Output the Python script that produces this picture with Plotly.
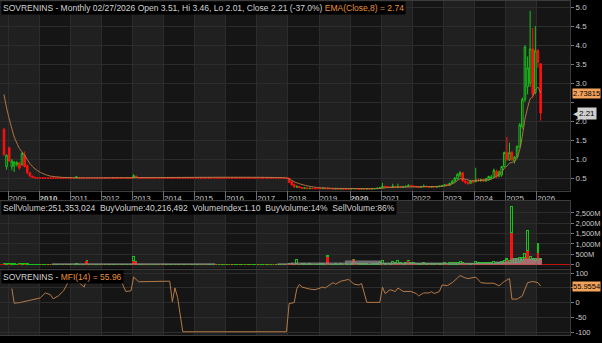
import pandas as pd
import plotly.graph_objects as go

# ---------------- monthly candles, Nov 2008 .. Feb 2026 ----------------
F = 0.50
opens = ([1.78, 0.80] +
         [1.30, 0.80, 0.82, 0.86, 0.90, 0.86, 1.10, 0.82, 0.64, 0.55, 0.52, 0.50] +
         [F, F, F, F, F, F, F, F, F, F, F, F] +
         [F, F, F, F, F, F, F, F, F, F, F, F] +
         [F, F, F, F, F, F, F, F, F, F, F, F] +
         [0.50, 0.55, F, F, F, F, F, F, F, F, F, F] +
         [F, F, F, F, F, F, F, F, F, F, F, F] +
         [F, F, F, F, F, F, F, F, F, F, F, F] +
         [F, F, F, F, F, F, F, F, F, F, F, F] +
         [F, F, F, F, F, F, F, F, F, F, F, F] +
         [0.50, 0.40, 0.33, 0.26, 0.28, 0.25, 0.23, 0.24, 0.22, 0.23, 0.22, 0.22] +
         [0.22, 0.22, 0.23, 0.22, 0.22, 0.22, 0.21, 0.22, 0.21, 0.22, 0.21, 0.21] +
         [0.21, 0.22, 0.22, 0.21, 0.21, 0.22, 0.21, 0.22, 0.21, 0.22, 0.22, 0.23] +
         [0.24, 0.28, 0.27, 0.26, 0.25, 0.28, 0.26, 0.27, 0.26, 0.27, 0.28, 0.30] +
         [0.29, 0.28, 0.27, 0.26, 0.27, 0.28, 0.27, 0.26, 0.27, 0.26, 0.27, 0.28] +
         [0.30, 0.33, 0.31, 0.36, 0.42, 0.48, 0.58, 0.64, 0.42, 0.38, 0.36, 0.42] +
         [0.40, 0.45, 0.43, 0.46, 0.42, 0.45, 0.50, 0.52, 0.68, 0.55, 0.58, 0.80] +
         [1.17, 0.98, 1.17, 0.95, 1.06, 1.33, 1.86, 2.57, 2.90, 3.00, 3.90, 2.75] +
         [3.85, 3.51])
highs = ([1.82, 1.12] +
         [1.32, 1.00, 0.95, 0.95, 0.92, 1.18, 1.20, 0.86, 0.66, 0.56, 0.52, 0.50] +
         [F, F, F, F, F, F, F, F, F, F, F, F] +
         [F, F, 0.54, F, F, F, F, F, F, F, F, F] +
         [F, F, F, F, F, F, F, F, F, F, F, F] +
         [0.60, 0.56, F, F, F, F, F, F, F, F, F, F] +
         [F, F, F, F, F, F, F, F, F, F, F, F] +
         [F, F, F, F, F, F, F, F, F, F, F, F] +
         [F, F, F, F, F, F, F, F, F, F, F, F] +
         [F, F, F, F, F, F, F, F, F, F, F, F] +
         [0.50, 0.41, 0.36, 0.30, 0.29, 0.26, 0.25, 0.25, 0.24, 0.23, 0.23, 0.23] +
         [0.23, 0.24, 0.24, 0.26, 0.23, 0.23, 0.23, 0.22, 0.23, 0.22, 0.22, 0.22] +
         [0.23, 0.23, 0.22, 0.22, 0.23, 0.22, 0.23, 0.22, 0.23, 0.23, 0.25, 0.26] +
         [0.37, 0.30, 0.28, 0.27, 0.35, 0.29, 0.35, 0.28, 0.29, 0.30, 0.34, 0.32] +
         [0.30, 0.29, 0.28, 0.29, 0.33, 0.30, 0.28, 0.29, 0.28, 0.29, 0.30, 0.32] +
         [0.34, 0.35, 0.38, 0.44, 0.52, 0.62, 0.68, 0.66, 0.46, 0.42, 0.44, 0.45] +
         [0.77, 0.50, 0.48, 0.48, 0.50, 0.56, 0.58, 0.75, 0.72, 0.70, 0.82, 1.20] +
         [1.58, 1.43, 1.22, 1.08, 1.36, 1.95, 2.62, 4.00, 3.70, 4.90, 4.45, 4.50] +
         [3.90, 3.46])
lows = ([1.08, 0.72] +
        [0.92, 0.70, 0.66, 0.80, 0.72, 0.82, 0.78, 0.60, 0.52, 0.50, 0.50, 0.50] +
        [F, F, F, F, F, F, F, F, F, F, F, F] +
        [F, F, F, F, F, F, F, F, F, F, F, F] +
        [F, F, F, F, F, F, F, F, F, F, F, F] +
        [0.50, 0.51, F, F, F, F, F, F, F, F, F, F] +
        [F, F, F, F, F, F, F, F, F, F, F, F] +
        [F, F, F, F, F, F, F, F, F, F, F, F] +
        [F, F, F, F, F, F, F, F, F, F, F, F] +
        [F, F, F, F, F, F, F, F, F, F, F, F] +
        [0.37, 0.30, 0.24, 0.24, 0.23, 0.22, 0.22, 0.21, 0.21, 0.21, 0.21, 0.21] +
        [0.21, 0.21, 0.21, 0.21, 0.21, 0.21, 0.21, 0.20, 0.20, 0.20, 0.20, 0.20] +
        [0.20, 0.21, 0.20, 0.20, 0.20, 0.20, 0.20, 0.20, 0.20, 0.21, 0.21, 0.22] +
        [0.23, 0.26, 0.25, 0.24, 0.24, 0.25, 0.25, 0.25, 0.25, 0.26, 0.27, 0.28] +
        [0.27, 0.26, 0.25, 0.25, 0.26, 0.26, 0.25, 0.25, 0.25, 0.25, 0.26, 0.27] +
        [0.28, 0.29, 0.30, 0.34, 0.40, 0.46, 0.52, 0.40, 0.34, 0.32, 0.34, 0.36] +
        [0.39, 0.40, 0.40, 0.40, 0.40, 0.43, 0.46, 0.50, 0.50, 0.52, 0.53, 0.78] +
        [0.95, 0.95, 0.95, 0.88, 1.02, 1.30, 1.80, 2.50, 2.70, 2.90, 2.60, 2.70] +
        [3.40, 2.01])
closes = ([1.12, 1.10] +
          [0.95, 0.95, 0.92, 0.90, 0.76, 1.15, 0.80, 0.64, 0.55, 0.52, 0.50, 0.50] +
          [F, F, F, F, F, F, F, F, F, F, F, F] +
          [F, F, 0.53, F, F, F, F, F, F, F, F, F] +
          [F, F, F, F, F, F, F, F, F, F, F, F] +
          [0.565, 0.51, F, F, F, F, F, F, F, F, F, F] +
          [F, F, F, F, F, F, F, F, F, F, F, F] +
          [F, F, F, F, F, F, F, F, F, F, F, F] +
          [F, F, F, F, F, F, F, F, F, F, F, F] +
          [F, F, F, F, F, F, F, F, F, F, F, F] +
          [0.38, 0.32, 0.27, 0.28, 0.25, 0.23, 0.24, 0.22, 0.23, 0.22, 0.22, 0.22] +
          [0.22, 0.23, 0.22, 0.22, 0.22, 0.21, 0.22, 0.21, 0.22, 0.21, 0.21, 0.21] +
          [0.22, 0.22, 0.21, 0.21, 0.22, 0.21, 0.22, 0.21, 0.22, 0.22, 0.23, 0.24] +
          [0.28, 0.27, 0.26, 0.25, 0.28, 0.26, 0.27, 0.26, 0.27, 0.28, 0.30, 0.29] +
          [0.28, 0.27, 0.26, 0.27, 0.28, 0.27, 0.26, 0.27, 0.26, 0.27, 0.28, 0.30] +
          [0.32, 0.30, 0.36, 0.42, 0.50, 0.60, 0.64, 0.42, 0.38, 0.36, 0.42, 0.40] +
          [0.45, 0.43, 0.46, 0.42, 0.48, 0.54, 0.52, 0.70, 0.53, 0.66, 0.80, 1.17] +
          [0.98, 1.17, 0.98, 1.05, 1.33, 1.90, 2.57, 3.95, 3.40, 3.90, 2.70, 3.85] +
          [3.55, 2.21])

# volume split (millions)
sell_vol = ([45, 20] +
            [40, 15, 20, 10, 35, 15, 40, 30, 25, 15, 10, 5] +
            [5, 5, 5, 5, 5, 5, 5, 5, 5, 5, 5, 5] +
            [5, 5, 5, 5, 5, 5, 190, 5, 5, 5, 5, 5] +
            [5, 5, 5, 5, 30, 5, 5, 5, 5, 5, 5, 5] +
            [190, 150, 5, 5, 5, 5, 5, 5, 5, 5, 5, 5] +
            [5, 5, 5, 5, 5, 5, 5, 5, 5, 5, 5, 5] +
            [5, 5, 5, 5, 5, 5, 5, 5, 5, 5, 5, 5] +
            [5, 5, 5, 5, 5, 5, 5, 5, 5, 5, 5, 5] +
            [5, 5, 5, 5, 5, 5, 5, 5, 5, 5, 30, 30] +
            [60, 40, 30, 40, 30, 20, 20, 25, 20, 20, 20, 20] +
            [30, 20, 25, 400, 20, 30, 20, 25, 20, 20, 25, 20] +
            [25, 270, 40, 30, 20, 30, 25, 20, 25, 30, 20, 30] +
            [60, 30, 40, 30, 50, 40, 60, 40, 30, 40, 200, 80] +
            [60, 40, 30, 30, 40, 30, 40, 30, 30, 40, 30, 30] +
            [40, 50, 30, 30, 30, 30, 40, 90, 50, 40, 30, 40] +
            [40, 50, 40, 60, 40, 40, 50, 60, 80, 60, 60, 120] +
            [240, 100, 1540, 100, 120, 150, 200, 330, 670, 240, 240, 200] +
            [600, 251])
buy_vol = ([10, 35] +
           [10, 30, 25, 20, 5, 35, 10, 5, 5, 5, 3, 3] +
           [0, 0, 0, 0, 0, 0, 0, 0, 0, 0, 0, 0] +
           [0, 0, 40, 0, 0, 0, 0, 0, 0, 0, 0, 0] +
           [0, 0, 0, 0, 0, 0, 0, 0, 0, 0, 0, 0] +
           [210, 0, 0, 0, 0, 0, 0, 0, 0, 0, 0, 0] +
           [0, 0, 0, 0, 0, 0, 0, 0, 0, 0, 0, 0] +
           [0, 0, 0, 0, 0, 0, 0, 0, 0, 0, 0, 0] +
           [0, 0, 0, 0, 0, 0, 0, 0, 0, 0, 0, 0] +
           [0, 0, 0, 0, 0, 0, 0, 0, 0, 0, 0, 0] +
           [0, 0, 0, 200, 0, 20, 30, 0, 20, 0, 10, 10] +
           [10, 30, 0, 20, 10, 0, 20, 0, 20, 0, 10, 10] +
           [20, 0, 10, 20, 30, 10, 20, 10, 20, 20, 30, 60] +
           [150, 40, 30, 40, 100, 50, 120, 50, 40, 50, 20, 40] +
           [30, 40, 30, 40, 50, 40, 30, 40, 30, 30, 40, 50] +
           [60, 30, 60, 70, 80, 90, 100, 20, 30, 30, 50, 30] +
           [100, 40, 50, 30, 50, 60, 50, 80, 30, 60, 90, 60] +
           [60, 80, 1250, 200, 180, 200, 150, 200, 960, 140, 50, 100] +
           [400, 40])

# grey average-volume band (millions), step vertices
avgvol_months = ['2010-06', '2015-09', '2017-09', '2018-02', '2019-11', '2021-01',
                 '2023-01', '2024-09', '2025-03', '2026-03']
avgvol_values = [70, 0, 70, 100, 200, 110, 90, 150, 300, 0]

# EMA(Close,8) readings
ema_months = ['2008-11', '2008-12', '2009-01', '2009-02', '2009-03', '2009-04', '2009-05',
              '2009-07', '2009-09', '2009-11', '2010-01', '2010-03', '2010-05', '2010-09',
              '2011-03', '2017-12', '2018-01', '2018-02', '2018-03', '2018-05', '2018-07',
              '2018-09', '2018-12', '2019-05', '2020-09', '2020-12', '2021-03', '2021-07',
              '2022-05', '2023-01', '2023-03', '2023-05', '2023-07', '2023-09', '2023-11',
              '2024-01', '2024-04', '2024-07', '2024-09', '2024-11', '2024-12', '2025-01',
              '2025-02', '2025-03', '2025-04', '2025-05', '2025-06', '2025-07', '2025-08',
              '2025-09', '2025-10', '2025-11', '2025-12', '2026-01', '2026-02']
ema_values = [2.70, 2.35, 2.06, 1.80, 1.58, 1.42, 1.28,
              1.10, 0.88, 0.74, 0.65, 0.59, 0.55, 0.52,
              0.505, 0.50, 0.47, 0.44, 0.40, 0.35, 0.31,
              0.28, 0.25, 0.23, 0.22, 0.225, 0.25, 0.26,
              0.27, 0.29, 0.32, 0.38, 0.48, 0.47, 0.43,
              0.43, 0.44, 0.47, 0.55, 0.65, 0.76, 0.81,
              0.89, 0.91, 0.94, 1.03, 1.25, 1.60, 2.05,
              2.35, 2.58, 2.65, 2.82, 2.89, 2.73815]

# MFI(14) readings
mfi_months = ['2009-02', '2009-03', '2009-05', '2009-10', '2010-01', '2010-03', '2010-05',
              '2010-06', '2010-08', '2010-10', '2010-12', '2011-01', '2011-04', '2011-06',
              '2011-07', '2011-12', '2012-04', '2012-05', '2012-06', '2012-08', '2012-10',
              '2012-12', '2013-01', '2013-03', '2013-07', '2013-08', '2014-03', '2014-04',
              '2014-05', '2014-06', '2014-08', '2017-12', '2018-01', '2018-03', '2018-04',
              '2018-05', '2018-06', '2018-09', '2018-11', '2019-02', '2019-03', '2019-06',
              '2019-07', '2019-09', '2019-12', '2020-02', '2020-04', '2020-05', '2020-07',
              '2020-12', '2021-01', '2021-02', '2021-04', '2021-06', '2021-07', '2021-09',
              '2021-12', '2022-02', '2022-03', '2022-05', '2022-07', '2022-08', '2022-09',
              '2022-11', '2022-12', '2023-02', '2023-04', '2023-06', '2023-07', '2023-09',
              '2023-10', '2024-01', '2024-03', '2024-05', '2024-08', '2024-10', '2024-12',
              '2025-02', '2025-03', '2025-05', '2025-07', '2025-09', '2025-11', '2026-01',
              '2026-02']
mfi_values = [48, -2, 0, 10, 16, 33, 27,
              13, 23, 40, 73, 68, 68, 53,
              84, 84, 80, 87, 73, 78, 38,
              40, 87, 71, 71, 73, 73, 3,
              50, 18, -99, -99, -3, 0, 47,
              62, 53, 46, 44, 53, 50, 68,
              63, 73, 79, 63, 60, 65, 1,
              1, 53, 31, 44, 38, 50, 38,
              38, 31, 23, 33, 33, 37, 31,
              38, 60, 58, 68, 84, 92, 84,
              82, 87, 68, 66, 66, 57, 72,
              82, 12, 12, 23, 68, 72, 68,
              55.96]

year_labels = [str(y) for y in range(2009, 2027)]

# ---------------- styling ----------------
FONT = "Liberation Sans Narrow, Arial Narrow, Liberation Sans, Arial, sans-serif"
TXT = "#c8c8c8"
ORANGE = "#e8923a"
LINE_BROWN = "#b47a46"
LIGHT_BAND = "#202020"
DARK_BAND = "#151515"
GRID = "#2c2c2c"
GREEN = "#19c019"
RED = "#ff1010"

mid = pd.Timedelta(days=14)
dates = pd.date_range('2008-11-01', periods=len(closes), freq='MS') + mid
ema_x = pd.to_datetime(ema_months) + mid
mfi_x = pd.to_datetime(mfi_months) + mid
avg_x = pd.to_datetime(avgvol_months)

fig = go.Figure()

fig.add_trace(go.Candlestick(
    x=dates, open=opens, high=highs, low=lows, close=closes,
    increasing=dict(line=dict(color=GREEN, width=1), fillcolor='rgba(0,0,0,0)'),
    decreasing=dict(line=dict(color=RED, width=1), fillcolor=RED),
    whiskerwidth=0, xaxis='x', yaxis='y', showlegend=False, hoverinfo='skip'))
fig.add_trace(go.Scatter(x=ema_x, y=ema_values, mode='lines',
                         line=dict(color=LINE_BROWN, width=1, shape='spline', smoothing=0.6),
                         xaxis='x', yaxis='y', showlegend=False, hoverinfo='skip'))

fig.add_trace(go.Scatter(x=avg_x, y=avgvol_values, mode='lines', fill='tozeroy',
                         line=dict(color='rgba(150,150,150,0.0)', width=0, shape='hv'),
                         fillcolor='rgba(140,140,140,0.75)',
                         xaxis='x2', yaxis='y2', showlegend=False, hoverinfo='skip'))
fig.add_trace(go.Bar(x=dates, y=sell_vol, marker=dict(color=RED, line=dict(width=0)),
                     xaxis='x2', yaxis='y2', showlegend=False, hoverinfo='skip'))
fig.add_trace(go.Bar(x=dates, y=buy_vol,
                     marker=dict(color='rgba(0,0,0,0)', line=dict(color=GREEN, width=1)),
                     xaxis='x2', yaxis='y2', showlegend=False, hoverinfo='skip'))

fig.add_trace(go.Scatter(x=mfi_x, y=mfi_values, mode='lines',
                         line=dict(color=LINE_BROWN, width=1),
                         xaxis='x3', yaxis='y3', showlegend=False, hoverinfo='skip'))

x_range = ['2008-09-29', '2027-01-26']
year_ticks = [f'{y}-01-01' for y in range(2009, 2027)]
tick_text = [f'<b>{t}</b>' if t in ('2010', '2020') else t for t in year_labels]

common_x = dict(range=x_range, type='date', showgrid=True, gridcolor=GRID, gridwidth=1,
                tickvals=year_ticks, zeroline=False, showline=True, linecolor='#3c3c3c',
                mirror=True, rangeslider=dict(visible=False), fixedrange=True)

fig.update_layout(
    width=602, height=343,
    margin=dict(l=0, r=32, t=1, b=8),
    paper_bgcolor='#000000', plot_bgcolor=DARK_BAND,
    font=dict(family=FONT, size=8, color=TXT),
    barmode='stack', bargap=0.2, boxgap=0.05,
    xaxis=dict(**common_x, anchor='y', showticklabels=True, ticktext=tick_text,
               ticks='', ticklabelposition='outside right',
               tickfont=dict(family=FONT, size=8, color=TXT)),
    xaxis2=dict(**common_x, anchor='y2', matches='x', showticklabels=False,
                side='top', ticks='outside', ticklen=9, tickcolor='#6a6a6a'),
    xaxis3=dict(**common_x, anchor='y3', matches='x', showticklabels=False, ticks=''),
    yaxis=dict(domain=[0.4326, 1.0], range=[0.171, 5.16], side='right',
               tickvals=[0.5, 1.0, 1.5, 2.0, 2.5, 3.0, 3.5, 4.0, 4.5, 5.0],
               ticktext=['0.5', '1.0', '1.5', '2.0', '', '3.0', '3.5', '4.0', '4.5', '5.0'],
               showgrid=True, gridcolor=GRID, zeroline=False, ticks='outside', ticklen=3,
               tickcolor='#777', showline=True, linecolor='#3c3c3c', mirror=True,
               fixedrange=True),
    yaxis2=dict(domain=[0.1991, 0.4012], range=[-185, 3077], side='right',
                tickvals=[0, 500, 1000, 1500, 2000, 2500],
                ticktext=['0', '500M', '1,000M', '1,500M', '2,000M', '2,500M'],
                showgrid=True, gridcolor=GRID, zeroline=True, zerolinecolor='#c01010',
                zerolinewidth=1, ticks='outside', ticklen=3, tickcolor='#777',
                tickfont=dict(size=7.5),
                showline=True, linecolor='#3c3c3c', mirror=True, fixedrange=True),
    yaxis3=dict(domain=[0.0, 0.1946], range=[-110, 111], side='right',
                tickvals=[-100, -50, 0, 50, 100],
                ticktext=['-100', '-50', '0', '', '100'],
                showgrid=True, gridcolor=GRID, zeroline=False, ticks='outside', ticklen=3,
                tickcolor='#777', tickfont=dict(size=7.5),
                showline=True, linecolor='#3c3c3c', mirror=True,
                fixedrange=True),
)

# alternating year bands (lighter for odd years)
shapes = []
light_spans = [('2008-09-01', '2009-01-01')] + [(f'{y}-01-01', f'{y + 1}-01-01')
                                                for y in range(2009, 2027, 2)]
for yref in ('y domain', 'y2 domain', 'y3 domain'):
    for a, b in light_spans:
        shapes.append(dict(type='rect', xref='x', yref=yref, x0=a, x1=b, y0=0, y1=1,
                           fillcolor=LIGHT_BAND, line=dict(width=0), layer='below'))
fig.update_layout(shapes=shapes)

ann = []
ann.append(dict(xref='paper', yref='paper', x=0.002, y=1.0, xanchor='left', yanchor='top',
                showarrow=False, bgcolor='#000000', borderpad=1,
                font=dict(family=FONT, size=8.5, color='#d4d4d4'),
                text="SOVRENINS - Monthly 02/27/2026 Open 3.51, Hi 3.46, Lo 2.01, Close 2.21 (-37.0%) "
                     f"<span style='color:{ORANGE}'>EMA(Close,8) = 2.74</span>"))
ann.append(dict(xref='paper', yref='y2 domain', x=0.002, y=1.0, xanchor='left', yanchor='top',
                showarrow=False, bgcolor='#000000', borderpad=1,
                font=dict(family=FONT, size=8.5, color='#d4d4d4'),
                text="SellVolume:251,353,024&nbsp;&nbsp;BuyVolume:40,216,492&nbsp;&nbsp;"
                     "VolumeIndex:1.10&nbsp;&nbsp;BuyVolume:14%&nbsp;&nbsp;SellVolume:86%"))
ann.append(dict(xref='paper', yref='y3 domain', x=0.002, y=1.0, xanchor='left', yanchor='top',
                showarrow=False, bgcolor='#000000', borderpad=1,
                font=dict(family=FONT, size=8.5, color='#d4d4d4'),
                text=f"SOVRENINS - <span style='color:{ORANGE}'>MFI(14) = 55.96</span>"))
# right-edge value tags
ann.append(dict(xref='paper', yref='y', x=1.0, y=2.73815, xanchor='left', yanchor='middle',
                xshift=2, showarrow=False, bgcolor='#f4a35c', borderpad=0,
                font=dict(family=FONT, size=7.5, color='#000000'), text='2.73815'))
ann.append(dict(xref='paper', yref='y', x=1.0, y=2.21, xanchor='left', yanchor='middle',
                xshift=7, showarrow=False, bgcolor='#cfcfcf', borderpad=1,
                font=dict(family=FONT, size=8, color='#000000'), text='2.21'))
ann.append(dict(xref='paper', yref='y', x=1.0, y=2.21, xanchor='left', yanchor='middle',
                xshift=1, showarrow=False, font=dict(size=7, color='#cfcfcf'), text='◀'))
ann.append(dict(xref='paper', yref='y3', x=1.0, y=55.9554, xanchor='left', yanchor='middle',
                xshift=2, showarrow=False, bgcolor='#f4a35c', borderpad=0,
                font=dict(family=FONT, size=7.5, color='#000000'), text='55.9554'))
fig.update_layout(annotations=ann)

fig.write_html("out.html")
